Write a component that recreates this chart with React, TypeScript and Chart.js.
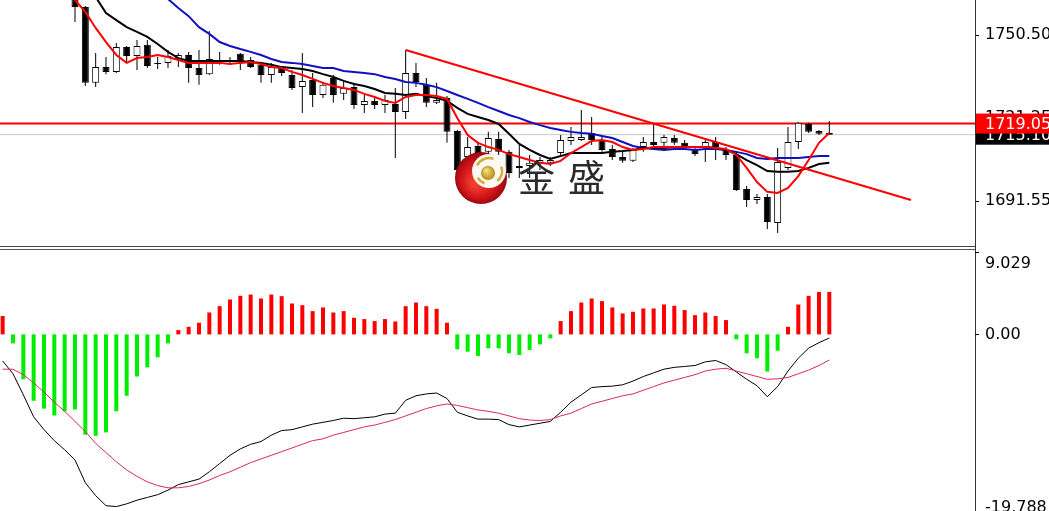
import React, { useEffect, useRef } from 'react';
import { Chart, registerables } from 'chart.js';
Chart.register(...registerables);

// ---------------- data ----------------
const OPEN = [1792, 1788, 1782, 1778, 1775, 1773, 1771, 1770.0, 1760.4, 1733.5, 1739.1, 1737.4, 1746.2, 1743.0, 1747.0, 1740.6, 1740.6, 1742.0, 1743.4, 1738.8, 1736.6, 1740.9, 1741.6, 1743.8, 1741.6, 1739.9, 1736.3, 1738.8, 1736.3, 1732.0, 1734.5, 1729.2, 1735.2, 1729.6, 1732.0, 1725.6, 1727.1, 1725.6, 1726.0, 1723.2, 1737.0, 1732.8, 1726.4, 1728.1, 1716.4, 1707.2, 1711.1, 1709.0, 1713.6, 1709.0, 1703.3, 1704.0, 1705.1, 1705.1, 1708.6, 1712.9, 1713.2, 1715.7, 1713.2, 1710.0, 1707.2, 1705.8, 1710.7, 1712.5, 1712.2, 1713.9, 1712.2, 1710.0, 1710.7, 1712.5, 1709.7, 1707.9, 1695.8, 1691.9, 1693.0, 1683.7, 1703.3, 1712.5, 1718.9, 1716.4, 1715.7];
const HIGH = [1795, 1790, 1785, 1780, 1779, 1776, 1774, 1773.6, 1760.8, 1744.1, 1742.7, 1747.7, 1746.6, 1748.7, 1748.7, 1742.7, 1745.2, 1744.1, 1744.5, 1745.2, 1751.9, 1744.5, 1742.7, 1744.1, 1742.7, 1740.2, 1740.6, 1739.1, 1738.1, 1744.1, 1737.0, 1733.8, 1736.3, 1734.5, 1733.5, 1729.2, 1728.1, 1729.2, 1731.7, 1745.2, 1740.6, 1735.2, 1733.5, 1728.8, 1716.8, 1714.3, 1712.5, 1716.1, 1716.1, 1709.7, 1711.4, 1707.9, 1707.2, 1707.2, 1715.0, 1717.8, 1723.9, 1721.4, 1715.0, 1711.4, 1709.0, 1710.4, 1714.3, 1719.3, 1715.0, 1715.0, 1713.2, 1711.1, 1713.9, 1714.3, 1710.7, 1709.0, 1696.9, 1694.0, 1694.0, 1710.4, 1717.8, 1719.6, 1719.3, 1716.8, 1720.0];
const LOW = [1786, 1780, 1776, 1772, 1771, 1768, 1766, 1755.1, 1732.4, 1732.0, 1736.6, 1737.0, 1740.6, 1738.1, 1738.8, 1738.4, 1738.8, 1739.1, 1733.5, 1732.8, 1736.3, 1739.9, 1740.2, 1738.1, 1738.8, 1733.5, 1733.5, 1735.9, 1731.0, 1722.8, 1724.9, 1728.1, 1726.4, 1727.4, 1724.2, 1722.8, 1724.2, 1722.8, 1706.8, 1720.7, 1732.0, 1724.9, 1726.0, 1712.2, 1700.8, 1704.3, 1706.1, 1706.8, 1707.9, 1699.7, 1699.7, 1699.7, 1702.6, 1704.0, 1707.9, 1711.4, 1712.9, 1711.4, 1709.0, 1706.1, 1705.1, 1705.4, 1709.0, 1709.7, 1709.7, 1711.4, 1710.4, 1707.5, 1705.4, 1706.1, 1706.1, 1695.1, 1689.4, 1690.5, 1681.6, 1680.2, 1702.6, 1710.0, 1715.7, 1715.0, 1715.0];
const CLOSE = [1788, 1782, 1778, 1775, 1773, 1771, 1770, 1760.4, 1733.5, 1739.1, 1737.4, 1746.2, 1743.0, 1746.6, 1739.5, 1740.2, 1743.0, 1743.4, 1738.8, 1736.3, 1742.0, 1741.6, 1740.9, 1740.9, 1739.1, 1736.3, 1739.1, 1737.0, 1731.7, 1734.2, 1729.2, 1732.8, 1729.2, 1731.7, 1725.6, 1727.1, 1725.6, 1727.4, 1723.2, 1737.0, 1733.8, 1726.4, 1727.4, 1716.1, 1702.6, 1710.7, 1708.6, 1713.9, 1709.0, 1701.5, 1704.0, 1705.1, 1706.1, 1706.1, 1713.2, 1714.3, 1714.3, 1713.2, 1709.7, 1707.2, 1705.8, 1709.7, 1712.5, 1711.4, 1714.3, 1712.2, 1710.7, 1708.2, 1712.5, 1710.7, 1707.9, 1695.5, 1691.9, 1693.0, 1684.1, 1705.4, 1712.5, 1719.3, 1716.1, 1715.4, 1715.1];

const MA_RED = [1785, 1782, 1779, 1776, 1773, 1770, 1766, 1762.9, 1758.7, 1753.0, 1748.0, 1743.4, 1740.6, 1742.3, 1742.7, 1743.4, 1742.7, 1741.6, 1740.6, 1740.6, 1740.6, 1740.6, 1740.2, 1740.6, 1740.9, 1740.2, 1739.1, 1738.8, 1737.4, 1736.3, 1734.9, 1733.5, 1732.4, 1731.7, 1731.0, 1729.6, 1728.5, 1727.1, 1726.4, 1728.5, 1729.2, 1729.2, 1728.8, 1727.8, 1721.0, 1715.0, 1712.2, 1710.7, 1709.7, 1708.2, 1707.2, 1706.1, 1705.1, 1704.7, 1705.8, 1708.6, 1710.7, 1712.9, 1713.2, 1712.5, 1710.7, 1709.7, 1710.0, 1710.7, 1710.7, 1710.7, 1710.7, 1710.7, 1710.7, 1710.4, 1710.0, 1707.9, 1703.3, 1698.3, 1694.8, 1694.4, 1696.2, 1700.4, 1706.1, 1712.2, 1715.7];
const MA_BLACK = [1790, 1787, 1784, 1781, 1778, 1775, 1772, 1769, 1766, 1764.0, 1758.3, 1755.8, 1753.3, 1751.6, 1749.8, 1747.3, 1744.5, 1742.3, 1741.3, 1741.3, 1741.3, 1741.3, 1741.3, 1741.3, 1740.9, 1740.6, 1739.9, 1739.1, 1738.8, 1738.4, 1737.7, 1736.6, 1735.6, 1734.2, 1733.1, 1732.4, 1731.3, 1729.9, 1729.6, 1729.2, 1729.6, 1728.8, 1728.1, 1727.1, 1724.6, 1722.5, 1721.4, 1720.3, 1718.9, 1715.4, 1711.8, 1709.7, 1707.9, 1706.5, 1707.5, 1708.6, 1708.6, 1708.6, 1708.6, 1709.0, 1709.3, 1709.7, 1710.4, 1710.4, 1710.4, 1710.7, 1710.7, 1710.7, 1710.7, 1710.4, 1709.7, 1708.2, 1706.1, 1704.3, 1702.2, 1701.9, 1701.9, 1702.2, 1703.3, 1704.7, 1705.1];
const MA_BLUE = [1800, 1798, 1796, 1794, 1792, 1790, 1788, 1786, 1784, 1782, 1780, 1777, 1774, 1771, 1768, 1766, 1763.3, 1760.1, 1757.2, 1753.3, 1750.9, 1748.0, 1746.6, 1745.5, 1744.5, 1743.4, 1742.0, 1740.9, 1740.6, 1740.2, 1739.5, 1738.8, 1738.8, 1737.7, 1737.4, 1737.0, 1736.6, 1735.6, 1734.9, 1733.8, 1733.5, 1732.8, 1732.0, 1730.6, 1729.2, 1727.8, 1726.4, 1724.9, 1723.5, 1722.1, 1721.0, 1719.6, 1718.5, 1717.5, 1716.8, 1716.1, 1715.7, 1715.4, 1714.6, 1713.9, 1712.5, 1711.1, 1710.4, 1710.0, 1709.7, 1710.0, 1710.0, 1709.7, 1710.0, 1710.0, 1709.7, 1709.0, 1708.2, 1706.8, 1706.5, 1706.8, 1706.8, 1706.8, 1707.2, 1707.5, 1707.5];

const TREND_X = [39, 87.9];
const TREND_Y = [1745.2, 1691.9];
const ASK = 1719.05;
const BID = 1715.1;
const PRICE_TICKS = [1750.5, 1721.25, 1691.55];

const HIST = [2.0, -0.98, -4.9, -7.25, -8.1, -8.85, -8.4, -8.2, -10.95, -11.07, -10.7, -8.4, -6.7, -4.6, -3.6, -2.5, -0.98, 0.47, 0.83, 1.27, 2.39, 3.08, 3.81, 4.21, 4.35, 3.92, 4.35, 4.17, 3.37, 3.19, 2.54, 2.94, 2.39, 2.54, 1.81, 1.67, 1.45, 1.67, 1.41, 3.08, 3.48, 3.08, 2.79, 1.27, -1.63, -1.89, -2.36, -1.52, -1.52, -2.07, -2.25, -1.7, -1.09, -0.44, 1.45, 2.54, 3.48, 3.92, 3.63, 2.94, 2.29, 2.47, 2.83, 2.83, 3.26, 3.12, 2.65, 2.1, 2.39, 2.0, 1.56, -0.54, -2.07, -2.61, -4.06, -1.78, 0.83, 3.26, 4.21, 4.64, 4.64];
const MACD = [-2.9, -4.3, -6.6, -9.0, -10.4, -11.6, -12.6, -13.7, -16.2, -17.6, -18.7, -18.8, -18.5, -18.1, -17.8, -17.5, -17.0, -16.4, -16.1, -15.8, -15.0, -14.1, -13.2, -12.5, -12.0, -11.7, -11.0, -10.5, -10.4, -10.1, -9.8, -9.6, -9.4, -9.15, -9.2, -9.1, -9.0, -8.7, -8.6, -7.2, -6.7, -6.5, -6.4, -7.0, -8.5, -8.9, -9.25, -9.25, -9.3, -9.85, -10.1, -9.9, -9.7, -9.5, -8.5, -7.4, -6.6, -5.8, -5.7, -5.65, -5.5, -5.1, -4.6, -4.2, -3.8, -3.6, -3.5, -3.4, -3.0, -2.85, -3.3, -4.1, -4.9, -5.6, -6.8, -5.7, -4.0, -2.6, -1.5, -0.9, -0.4];
const SIGNAL = [-3.8, -3.8, -4.4, -5.3, -6.3, -7.4, -8.4, -9.5, -10.6, -11.9, -12.9, -13.9, -14.8, -15.5, -16.1, -16.5, -16.75, -16.75, -16.6, -16.3, -15.9, -15.4, -15.0, -14.5, -14.0, -13.6, -13.2, -12.8, -12.4, -12.0, -11.6, -11.4, -11.0, -10.7, -10.4, -10.1, -9.9, -9.6, -9.3, -8.9, -8.5, -8.1, -7.8, -7.6, -7.75, -8.0, -8.25, -8.4, -8.6, -8.9, -9.2, -9.35, -9.4, -9.3, -8.9, -8.6, -8.1, -7.6, -7.3, -7.0, -6.7, -6.5, -6.1, -5.7, -5.3, -5.0, -4.7, -4.4, -4.0, -3.8, -3.7, -4.0, -4.3, -4.6, -4.9, -4.85, -4.7, -4.3, -3.9, -3.4, -2.8];
const MACD_TICKS = [9.029, 0, -19.788];
const MACD_TICK_LABELS = ['9.029', '0.00', '-19.788'];
const WATERMARK = ['金', '盛'];

// ---------------- layout / style ----------------
const W = 1049;
const TOP_H = 248;
const BOT_H = 263;
const AXIS_W = 74;
const X_MIN = -0.258;
const X_MAX = 94.1;
const PRICE_MAX = 1762.93;
const PRICE_MIN = 1674.86;
const MACD_MAX = 9.43;
const MACD_MIN = -19.28;
const FONT_FAMILY = '"DejaVu Sans", Verdana, sans-serif';
const AXIS_FONT = { family: FONT_FAMILY, size: 16 };

const pts = (arr: number[]) => arr.map((v, i) => ({ x: i, y: v }));

function drawLogo(ctx: CanvasRenderingContext2D) {
  const cx = 481, cy = 178, r = 26;
  ctx.save();
  const g = ctx.createRadialGradient(cx - 6, cy + 6, 3, cx, cy, r);
  g.addColorStop(0, '#f2402c');
  g.addColorStop(0.7, '#cc1018');
  g.addColorStop(1, '#980a10');
  ctx.fillStyle = g;
  ctx.beginPath();
  ctx.arc(cx, cy, r, 0, Math.PI * 2);
  ctx.fill();
  const icx = cx + 8, icy = cy - 7;
  ctx.fillStyle = '#fdf9f0';
  ctx.beginPath();
  ctx.arc(icx, icy, 17, 0, Math.PI * 2);
  ctx.fill();
  ctx.strokeStyle = '#cfae3c';
  ctx.lineWidth = 2.5;
  const arcs = [[205, 290], [340, 50], [110, 150]];
  arcs.forEach(([a, b]) => {
    ctx.beginPath();
    ctx.arc(icx, icy, 13, (a * Math.PI) / 180, (b * Math.PI) / 180);
    ctx.stroke();
  });
  const gb = ctx.createRadialGradient(icx - 3, icy - 1, 1, icx - 1, icy + 2, 7);
  gb.addColorStop(0, '#f3df78');
  gb.addColorStop(1, '#b48c18');
  ctx.fillStyle = gb;
  ctx.beginPath();
  ctx.arc(icx - 1, icy + 2, 7, 0, Math.PI * 2);
  ctx.fill();
  ctx.fillStyle = '#2b2b2b';
  ctx.font = '37px "Noto Sans CJK SC", sans-serif';
  ctx.textBaseline = 'middle';
  ctx.textAlign = 'left';
  ctx.fillText(WATERMARK[0], 518, 178);
  ctx.fillText(WATERMARK[1], 568, 178);
  ctx.restore();
}

const topOverlay = {
  id: 'topOverlay',
  afterDatasetsDraw(chart: any) {
    drawLogo(chart.ctx);
  },
  afterDraw(chart: any) {
    const { ctx, chartArea, scales } = chart;
    const y = scales.y;
    ctx.save();
    ctx.fillStyle = '#444';
    ctx.fillRect(0, chartArea.bottom - 2, chartArea.right, 1);
    ctx.font = `${AXIS_FONT.size}px ${FONT_FAMILY}`;
    ctx.textBaseline = 'middle';
    ctx.textAlign = 'left';
    const yb = y.getPixelForValue(BID);
    ctx.fillStyle = '#000';
    ctx.fillRect(chartArea.right + 1, yb - 9, 80, 19);
    ctx.fillStyle = '#fff';
    ctx.fillText(BID.toFixed(2), chartArea.right + 10, yb + 1);
    const ya = y.getPixelForValue(ASK);
    ctx.fillStyle = '#ff0000';
    ctx.fillRect(chartArea.right + 1, ya - 10, 80, 20);
    ctx.fillStyle = '#fff';
    ctx.fillText(ASK.toFixed(2), chartArea.right + 10, ya + 1);
    ctx.restore();
  },
};

const botOverlay = {
  id: 'botOverlay',
  afterDraw(chart: any) {
    const { ctx, chartArea, scales } = chart;
    const y = scales.y;
    ctx.save();
    ctx.fillStyle = '#555';
    ctx.fillRect(0, 1, chartArea.right, 1);
    ctx.font = `${AXIS_FONT.size}px ${FONT_FAMILY}`;
    ctx.textBaseline = 'middle';
    ctx.textAlign = 'left';
    MACD_TICKS.forEach((v, i) => {
      const py = y.getPixelForValue(v);
      ctx.fillStyle = '#000';
      ctx.fillRect(chartArea.right, Math.round(py), 4, 1);
      const ly = Math.min(Math.max(py, chartArea.top + 16), chartArea.bottom - 3);
      ctx.fillText(MACD_TICK_LABELS[i], chartArea.right + 10, ly);
    });
    ctx.restore();
  },
};

const xScale = { type: 'linear', display: false, min: X_MIN, max: X_MAX, offset: false };

export default function App() {
  const topRef = useRef<HTMLCanvasElement>(null);
  const botRef = useRef<HTMLCanvasElement>(null);

  useEffect(() => {
    document.body.style.margin = '0';
    const bodyColors = CLOSE.map((c, i) => (c >= OPEN[i] ? '#ffffff' : '#000000'));
    const top = new Chart(topRef.current as HTMLCanvasElement, {
      type: 'bar',
      data: {
        datasets: [
          { type: 'line', data: [{ x: -1, y: BID }, { x: 100, y: BID }], borderColor: '#c8c8c8', borderWidth: 1, pointRadius: 0, order: 12 } as any,
          { type: 'line', data: [{ x: -1, y: ASK }, { x: 100, y: ASK }], borderColor: '#ff0000', borderWidth: 2, pointRadius: 0, order: 11 } as any,
          {
            type: 'bar', data: OPEN.map((_, i) => ({ x: i, y: [LOW[i], HIGH[i]] })), backgroundColor: '#000',
            borderWidth: 0, grouped: false, barThickness: 1, maxBarThickness: 1, inflateAmount: 0, order: 10,
          } as any,
          {
            type: 'bar', data: OPEN.map((o, i) => ({ x: i, y: [o, CLOSE[i]] })), backgroundColor: bodyColors,
            borderColor: '#000', borderWidth: 1, borderSkipped: false, grouped: false, barThickness: 7, maxBarThickness: 7, inflateAmount: 0, order: 9,
          } as any,
          { type: 'line', data: pts(MA_BLUE), borderColor: '#1010c0', borderWidth: 2, pointRadius: 0, order: 5 } as any,
          { type: 'line', data: pts(MA_BLACK), borderColor: '#000000', borderWidth: 2, pointRadius: 0, order: 4 } as any,
          { type: 'line', data: pts(MA_RED), borderColor: '#ff0000', borderWidth: 2, pointRadius: 0, order: 3 } as any,
          { type: 'line', data: TREND_X.map((x, i) => ({ x, y: TREND_Y[i] })), borderColor: '#ff0000', borderWidth: 2, pointRadius: 0, order: 2 } as any,
        ],
      },
      options: {
        animation: false,
        responsive: false,
        events: [],
        layout: { padding: 0 },
        plugins: { legend: { display: false }, tooltip: { enabled: false } },
        scales: {
          x: xScale as any,
          y: {
            position: 'right',
            min: PRICE_MIN,
            max: PRICE_MAX,
            afterBuildTicks: (s: any) => { s.ticks = PRICE_TICKS.map((v) => ({ value: v })); },
            afterFit: (s: any) => { s.width = AXIS_W; s.paddingTop = 0; s.paddingBottom = 0; },
            ticks: { callback: (v: any) => Number(v).toFixed(2), color: '#000', font: AXIS_FONT, padding: 6, autoSkip: false },
            grid: { drawOnChartArea: false, drawTicks: true, tickLength: 4, color: '#000' },
            border: { display: true, color: '#333', width: 1 },
          } as any,
        },
      },
      plugins: [topOverlay],
    });

    const bot = new Chart(botRef.current as HTMLCanvasElement, {
      type: 'bar',
      data: {
        datasets: [
          { type: 'line', data: pts(MACD), borderColor: '#000', borderWidth: 1, pointRadius: 0, order: 2 } as any,
          { type: 'line', data: pts(SIGNAL), borderColor: '#dc2858', borderWidth: 1, pointRadius: 0, order: 1 } as any,
          {
            type: 'bar', data: pts(HIST), backgroundColor: HIST.map((v) => (v >= 0 ? '#ff0000' : '#00ee00')),
            borderWidth: 0, barThickness: 4, maxBarThickness: 4, inflateAmount: 0, order: 5,
          } as any,
        ],
      },
      options: {
        animation: false,
        responsive: false,
        events: [],
        layout: { padding: 0 },
        plugins: { legend: { display: false }, tooltip: { enabled: false } },
        scales: {
          x: xScale as any,
          y: {
            position: 'right',
            min: MACD_MIN,
            max: MACD_MAX,
            afterFit: (s: any) => { s.width = AXIS_W; s.paddingTop = 0; s.paddingBottom = 0; },
            ticks: { display: false },
            grid: { display: false },
            border: { display: true, color: '#333', width: 1 },
          } as any,
        },
      },
      plugins: [botOverlay],
    });

    return () => {
      top.destroy();
      bot.destroy();
    };
  }, []);

  return (
    <div style={{ position: 'relative', width: W, height: TOP_H + BOT_H, background: '#fff', overflow: 'hidden' }}>
      <canvas ref={topRef} width={W} height={TOP_H} style={{ position: 'absolute', left: 0, top: 0, width: W, height: TOP_H }} />
      <canvas ref={botRef} width={W} height={BOT_H} style={{ position: 'absolute', left: 0, top: TOP_H, width: W, height: BOT_H }} />
    </div>
  );
}
